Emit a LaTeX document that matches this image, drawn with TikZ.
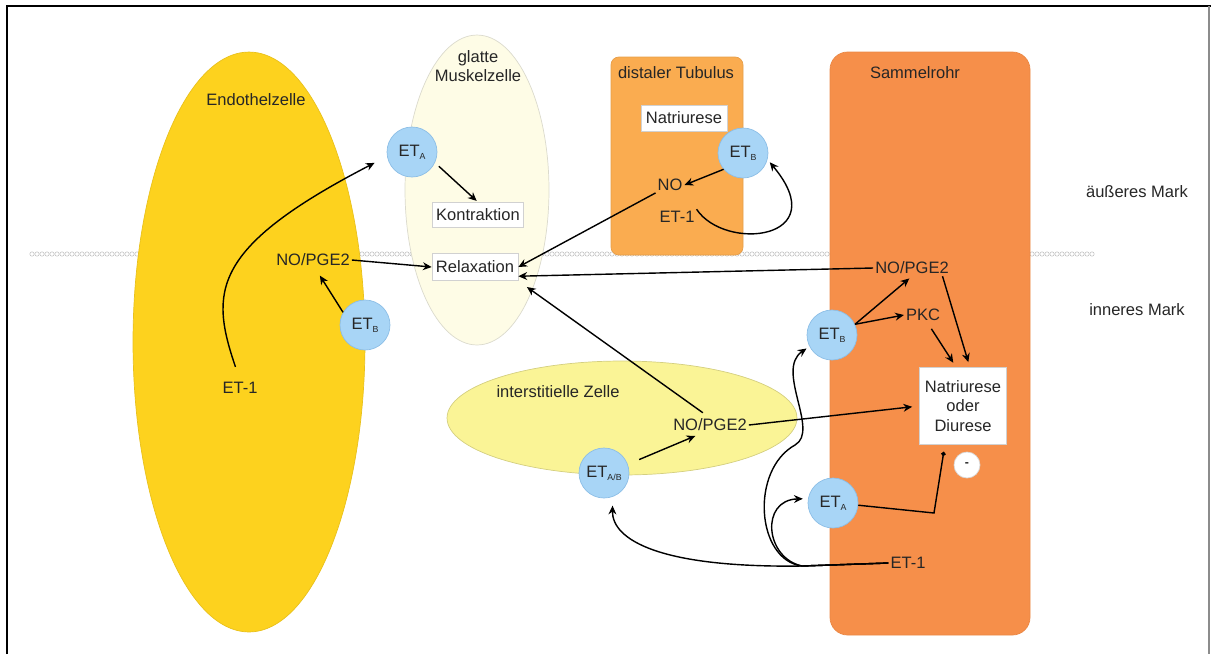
\documentclass[tikz,border=0pt]{standalone}
\usepackage{fontspec}
\setmainfont{Liberation Sans}
\usepackage{tikz}
\usepackage{xcolor}
\usetikzlibrary{arrows.meta}
\definecolor{endogelb}{RGB}{253,210,30}
\definecolor{smcgelb}{RGB}{254,252,230}
\definecolor{itzgelb}{RGB}{250,244,150}
\definecolor{dtorange}{RGB}{250,172,80}
\definecolor{srorange}{RGB}{246,143,74}
\definecolor{rezblau}{RGB}{168,213,246}
\definecolor{rezrand}{RGB}{140,190,230}
\newcommand{\rsub}[1]{\raisebox{-0.35ex}{\fontsize{5}{5}\selectfont #1}}

\begin{document}
\begin{tikzpicture}[x=0.02cm, y=0.02cm]
\tikzstyle{every node}+=[font=\fontsize{9.4}{11}\selectfont, text=black!85]
\tikzstyle{txt}=[inner sep=1pt]
\tikzstyle{rez}=[circle, draw=rezrand, fill=rezblau, minimum size=1cm, inner sep=0pt]
\tikzstyle{kasten}=[draw=black!18, fill=white, inner sep=0pt, align=center]
\tikzstyle{pfeil}=[black, line width=0.8pt, -{Stealth[length=5pt,width=4.5pt]}]
\useasboundingbox (0,0) rectangle (1211,-654);
\draw [black, line width=1.6pt] (7,-654) -- (7,-6) -- (1211,-6);
\draw [black!45, line width=0.6pt] (1209,-6) -- (1209,-654);
\foreach \i in {0,...,212}
  \draw [black!25, line width=0.3pt] (32+5*\i,-254) circle (0.044cm);
\draw [endogelb!92!black, fill=endogelb] (249,-342) ellipse (2.32cm and 5.8cm);
\draw [smcgelb!80!black!70, fill=smcgelb] (477,-190) ellipse (1.44cm and 3.1cm);
\draw [itzgelb!85!black, fill=itzgelb] (622,-418) ellipse (3.5cm and 1.14cm);
\draw [dtorange!92!black, fill=dtorange, rounded corners=4.5pt] (611,-57) rectangle (743,-255);
\draw [srorange!95!black, fill=srorange, rounded corners=10pt] (830,-52) rectangle (1030,-635);
\node (endoT) at (256,-100) {Endothelzelle};
\node[txt] (nopgeE) at (313,-260) {NO/PGE2};
\node[rez] (etbE) at (365,-325) {ET\rsub{B}};
\node[txt] (et1E) at (240,-388) {ET-1};
\node[align=center] (smcT) at (478,-66) {glatte\\Muskelzelle};
\node[rez] (etaM) at (412,-152) {ET\rsub{A}};
\node[kasten, minimum width=1.82cm, minimum height=0.5cm] (kontr) at (478,-215) {Kontraktion};
\node[kasten, minimum width=1.72cm, minimum height=0.54cm] (relax) at (475,-267) {Relaxation};
\node (dtT) at (676,-73) {distaler Tubulus};
\node[kasten, minimum width=1.72cm, minimum height=0.52cm] (natD) at (684,-118) {Natriurese};
\node[rez] (etbD) at (743,-153) {ET\rsub{B}};
\node[txt] (noD) at (670,-185) {NO};
\node[txt] (et1D) at (677,-217) {ET-1};
\node (srT) at (915,-73) {Sammelrohr};
\node[txt] (nopgeS) at (912,-268) {NO/PGE2};
\node[txt] (pkc) at (923,-315) {PKC};
\node[rez] (etbS) at (832,-335) {ET\rsub{B}};
\node[kasten, minimum width=1.74cm, minimum height=1.54cm] (natS) at (963,-406) {Natriurese\\oder\\Diurese};
\node[circle, draw=black!15, fill=white, minimum size=0.52cm, inner sep=0pt, font=\bfseries\fontsize{7}{7}\selectfont] (hemm) at (967,-465) {-};
\node[rez] (etaS) at (833,-503) {ET\rsub{A}};
\node[txt] (et1S) at (908,-563) {ET-1};
\node (itzT) at (558,-392) {interstitielle Zelle};
\node[txt] (nopgeI) at (710,-425) {NO/PGE2};
\node[rez] (etabI) at (604,-473) {ET\rsub{A/B}};
\node (aeM) at (1137,-192) {äußeres Mark};
\node (inM) at (1137,-310) {inneres Mark};
\coordinate (ast) at (802,-566);
\draw [pfeil, shorten <=8pt, shorten >=8pt] (et1E.north) .. controls (210,-292) and (210,-248) .. (etaM.190);
\draw [pfeil, shorten >=5pt] (etbE.150) -- (nopgeE.-75);
\draw [pfeil] (nopgeE.east) -- (relax.west);
\draw [pfeil, shorten <=3pt, shorten >=1pt] (etaM.-25) -- (kontr.north);
\draw [pfeil] (noD.south west) -- (relax.east);
\draw [pfeil] (etbD.-140) -- (noD.east);
\draw [pfeil, shorten >=2pt] (et1D.north east) .. controls (725,-252) and (835,-240) .. (etbD.-15);
\draw [pfeil] (nopgeS.west) -- (relax.-12);
\draw [pfeil, shorten <=4pt, shorten >=6pt] (nopgeI.100) -- (relax.south east);
\draw [pfeil, shorten <=7pt, shorten >=4pt] (etabI.20) -- (nopgeI.-135);
\draw [pfeil, shorten >=4pt] (nopgeI.east) -- (natS.west);
\draw [pfeil, shorten >=2pt] (etbS.25) -- (nopgeS.south);
\draw [pfeil] (etbS.25) -- (pkc.west);
\draw [pfeil, shorten >=3pt] (nopgeS.-15) -- (natS.80);
\draw [pfeil, shorten <=4pt, shorten >=3pt] (pkc.-60) -- (natS.100);
\draw [black, line width=0.8pt, -{Circle[length=2.5pt]}, shorten >=4pt] (etaS.-5) -- (934,-513) -- (natS.-115);
\draw [pfeil, shorten >=5pt] (et1S.west) -- (ast) .. controls (660,-568) and (612,-540) .. (etabI.-70);
\draw [pfeil, shorten >=2pt] (et1S.west) -- (ast) .. controls (756,-560) and (750,-470) .. (795,-445) .. controls (820,-431) and (775,-370) .. (etbS.207);
\draw [pfeil, shorten >=3pt] (et1S.west) -- (ast) .. controls (765,-558) and (760,-500) .. (etaS.170);
\end{tikzpicture}
\end{document}
